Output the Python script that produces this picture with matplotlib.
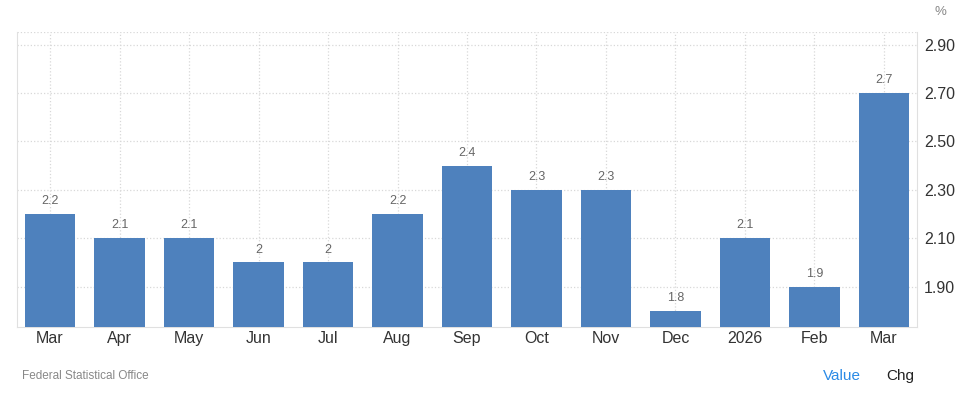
import matplotlib.pyplot as plt
import numpy as np

plt.rcParams['font.family'] = ['Liberation Sans', 'DejaVu Sans']

months = ['Mar', 'Apr', 'May', 'Jun', 'Jul', 'Aug', 'Sep', 'Oct', 'Nov', 'Dec', '2026', 'Feb', 'Mar']
values = [2.2, 2.1, 2.1, 2.0, 2.0, 2.2, 2.4, 2.3, 2.3, 1.8, 2.1, 1.9, 2.7]
labels = ['2.2', '2.1', '2.1', '2', '2', '2.2', '2.4', '2.3', '2.3', '1.8', '2.1', '1.9', '2.7']
yticks = [1.90, 2.10, 2.30, 2.50, 2.70, 2.90]

fig = plt.figure(figsize=(9.63, 3.95), dpi=100)
ax = fig.add_axes([17 / 963, 1 - 327 / 395, 900 / 963, 295 / 395])

x = np.arange(len(values))
ymin, ymax = 1.733, 2.952
ax.bar(x, np.array(values) - ymin, bottom=ymin, width=0.72, color='#4e81bd', zorder=3)
for xi, v, lab in zip(x, values, labels):
    ax.text(xi, v + 0.028, lab, ha='center', va='bottom', fontsize=9, color='#666666')

ax.set_xlim(-0.475, 12.475)
ax.set_ylim(ymin, ymax)
ax.set_xticks(x)
ax.set_xticklabels(months, fontsize=11.5, color='#333333')
ax.set_yticks(yticks + [ymax])
ax.set_yticklabels(['%.2f' % t for t in yticks] + [''], fontsize=11.5, color='#333333')
ax.yaxis.tick_right()
ax.tick_params(axis='x', length=0, pad=3)
ax.tick_params(axis='y', length=0, pad=5)
ax.grid(True, linestyle=':', color='#d8d8d8', linewidth=0.9, zorder=0)

ax.spines['top'].set_visible(False)
ax.spines['left'].set_color('#e0e0e0')
ax.spines['right'].set_color('#e0e0e0')
ax.spines['bottom'].set_color('#e0e0e0')

fig.text(940 / 963, 1 - 12 / 395, '%', ha='center', va='center', fontsize=9.5, color='#888888')
fig.text(22 / 963, 1 - 379 / 395, 'Federal Statistical Office', ha='left', va='baseline', fontsize=8.5, color='#888888')
fig.text(842 / 963, 1 - 380 / 395, 'Value', ha='center', va='baseline', fontsize=11, color='#2a8ae6')
fig.text(900 / 963, 1 - 380 / 395, 'Chg', ha='center', va='baseline', fontsize=11, color='#222222')

fig.savefig('out.png', dpi=100)
